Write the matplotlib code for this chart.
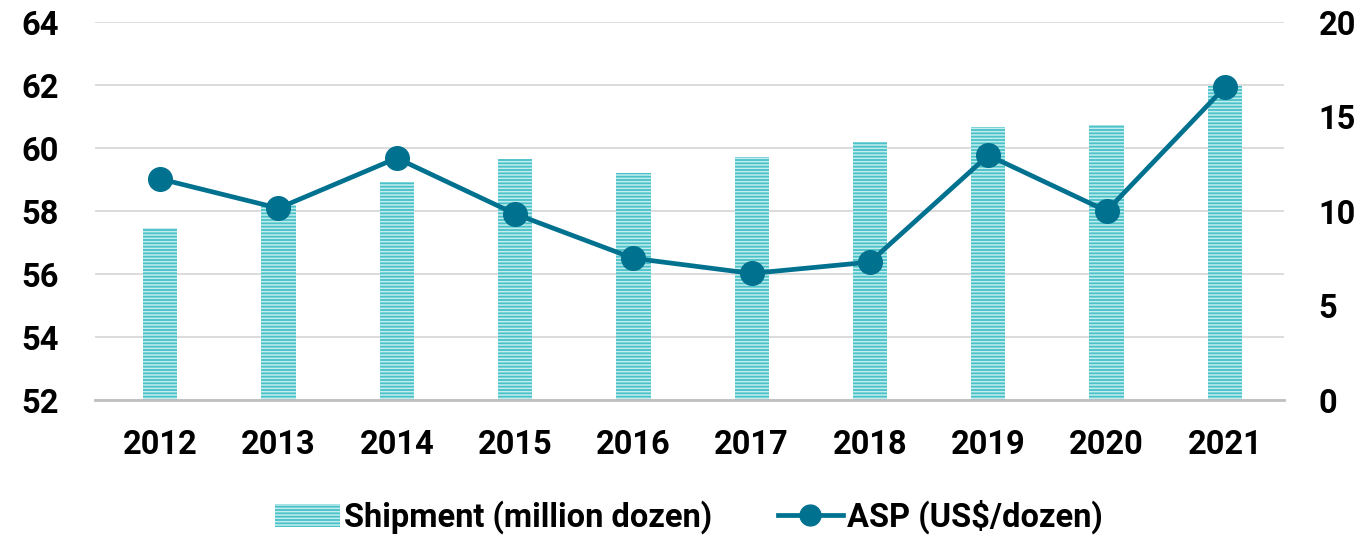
import matplotlib.pyplot as plt
import matplotlib.lines as mlines
import matplotlib.patches as mpatches

plt.rcParams['font.family'] = ['Roboto', 'DejaVu Sans']
plt.rcParams['hatch.linewidth'] = 1.1

years = ['2012', '2013', '2014', '2015', '2016', '2017', '2018', '2019', '2020', '2021']
shipment = [57.46, 58.2, 58.92, 59.65, 59.22, 59.7, 60.18, 60.66, 60.72, 61.97]
asp = [11.7, 10.15, 12.8, 9.85, 7.5, 6.7, 7.3, 12.95, 10.0, 16.55]

bar_color = '#48c2c8'
stripe_color = '#c4ecee'
line_color = '#00718f'

fig = plt.figure(figsize=(13.64, 5.37), dpi=100)
ax = fig.add_axes([0.0697, 0.255, 0.8717, 0.704])
ax2 = ax.twinx()

x = list(range(len(years)))
ax.bar(x, [v - 52 for v in shipment], bottom=52, width=0.29, color=bar_color,
       edgecolor=stripe_color, linewidth=0, hatch='-----', zorder=2)
ax.set_ylim(52, 64)
ax.set_yticks([52, 54, 56, 58, 60, 62, 64])
ax.set_xlim(-0.55, 9.5)
ax.set_xticks(x)
ax.set_xticklabels(years)
ax.grid(axis='y', color='#d9d9d9', linewidth=1.3, zorder=0)
ax.set_axisbelow(True)

ax2.plot(x, asp, color=line_color, linewidth=3.4, marker='o', markersize=17, zorder=3)
ax2.set_ylim(0, 20)
ax2.set_yticks([0, 5, 10, 15, 20])

for a in (ax, ax2):
    for s in a.spines.values():
        s.set_visible(False)
    a.tick_params(length=0, labelsize=23.5)
    for lab in a.get_xticklabels() + a.get_yticklabels():
        lab.set_fontweight('bold')
ax.spines['bottom'].set_visible(True)
ax.spines['bottom'].set_color('#bfbfbf')
ax.spines['bottom'].set_linewidth(2)
ax.tick_params(axis='y', pad=26)
ax.tick_params(axis='x', pad=21)
ax2.tick_params(axis='y', pad=25)

h1 = mpatches.Patch(facecolor=bar_color, edgecolor=stripe_color, linewidth=0, hatch='-----')
h2 = mlines.Line2D([], [], color=line_color, linewidth=3.4, marker='o', markersize=15)
fig.legend([h1, h2], ['Shipment (million dozen)', 'ASP (US$/dozen)'],
           loc='center', bbox_to_anchor=(0.505, 0.037), ncol=2, frameon=False,
           prop={'size': 23.5, 'weight': 'bold'}, handlelength=2.0,
           handletextpad=0.12, columnspacing=2.0)

fig.savefig('out.png', dpi=100)
